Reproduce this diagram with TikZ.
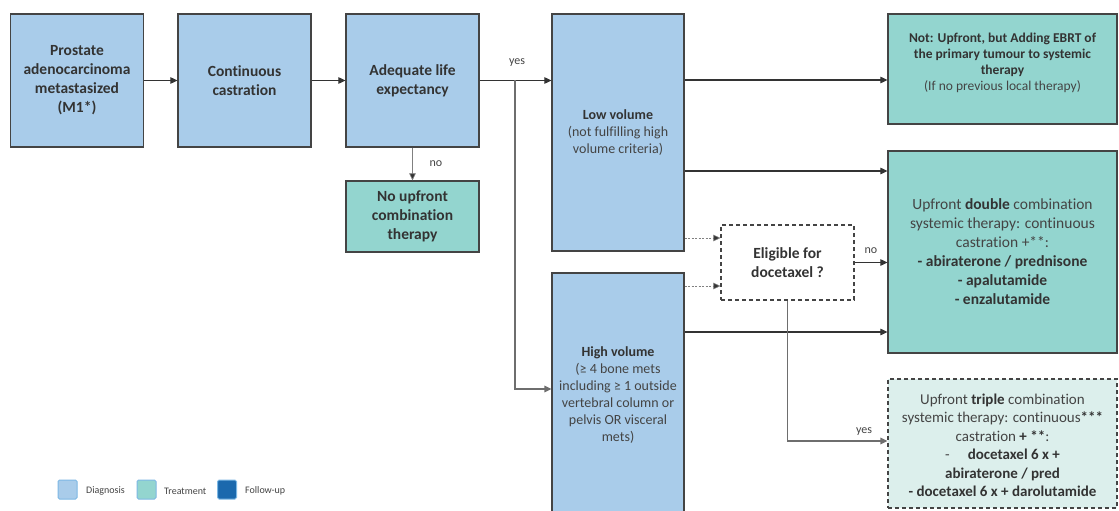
\documentclass[tikz,border=0pt]{standalone}
\usepackage{fontspec}
\setmainfont{Carlito}[Ligatures=NoCommon]
\usetikzlibrary{arrows.meta}
\definecolor{diag}{HTML}{A9CCEA}
\definecolor{treat}{HTML}{93D5CF}
\definecolor{treatlight}{HTML}{DCEFEC}
\definecolor{follow}{HTML}{1B69AD}
\definecolor{legborder}{HTML}{7DB8E4}
\definecolor{boxline}{HTML}{444444}
\definecolor{txt}{HTML}{333333}
\definecolor{txtl}{HTML}{444444}
\definecolor{gline}{HTML}{6E6E6E}
\tikzset{
  base/.style={draw=boxline, line width=1.2pt, inner sep=0pt, align=center, text=txt,
    font=\fontsize{15.5pt}{19pt}\selectfont},
  dbox/.style={base, fill=diag},
  tbox/.style={base, fill=treat},
  qbox/.style={base, fill=white, dash pattern=on 4pt off 3pt},
  tqbox/.style={base, fill=treatlight, dash pattern=on 4pt off 3pt},
  arr/.style={draw=txt, line width=1.1pt, -{Triangle[length=7pt,width=6.5pt]}},
  garr/.style={draw=gline, line width=1.4pt, -{Triangle[length=7pt,width=6.5pt]}},
  thinarr/.style={draw=gray, line width=0.6pt, -{Triangle[length=7pt,width=6.5pt,fill=txt]}},
  dotarr/.style={draw=gray, line width=0.6pt, dash pattern=on 2pt off 1.5pt, -{Triangle[length=7pt,width=6.5pt,fill=txt]}},
  lbl/.style={text=txtl, font=\fontsize{12pt}{14pt}\selectfont, inner sep=1pt},
  legsq/.style={draw=legborder, line width=1pt, rounded corners=1.5pt, minimum width=19pt, minimum height=19pt, inner sep=0pt},
  legtxt/.style={text=txtl, font=\fontsize{10pt}{11pt}\selectfont, anchor=west, inner sep=0pt},
}
\begin{document}
\begin{tikzpicture}[x=1pt,y=-1pt]
\useasboundingbox (0,0) rectangle (1119,511);
\clip (0,0) rectangle (1119,511);
\fill[white] (0,0) rectangle (1119,511);

% diagnosis column
\node[dbox, minimum width=133pt, minimum height=133pt] (pro) at (77,80.5)
  {\bfseries Prostate\\ \bfseries adenocarcinoma\\ \bfseries metastasized\\ \bfseries (M1*)};
\node[dbox, minimum width=133pt, minimum height=133pt] (cc) at (244.5,80.5)
  {\bfseries Continuous\\ \bfseries castration};
\node[dbox, minimum width=133pt, minimum height=133pt] (ade) at (412.5,80.5)
  {\bfseries Adequate life\\ \bfseries expectancy};
\node[tbox, minimum width=133pt, minimum height=71pt] (noup) at (412.5,216.5)
  {\bfseries No upfront\\ \bfseries combination\\ \bfseries therapy};

\node[dbox, minimum width=132pt, minimum height=237pt, font=\fontsize{14pt}{17pt}\selectfont] (low) at (618,132.5)
  {\bfseries Low volume\\ {\color{txtl}(not fulfilling high}\\ {\color{txtl}volume criteria)}};
\node[dbox, minimum width=132pt, minimum height=244pt, font=\fontsize{14pt}{17pt}\selectfont] (high) at (618,395)
  {\bfseries High volume\\ {\color{txtl}(≥ 4 bone mets}\\ {\color{txtl}including ≥ 1 outside}\\ {\color{txtl}vertebral column or}\\ {\color{txtl}pelvis OR visceral}\\ {\color{txtl}mets)}};

\node[qbox, minimum width=133pt, minimum height=75pt] (elig) at (787.5,262.5)
  {\bfseries Eligible for\\ \bfseries docetaxel ?};

% treatments
\node[tbox, minimum width=229pt, minimum height=110pt] (nup) at (1002.5,69) {};
\node[align=center, text=txt, inner sep=0pt, font=\fontsize{13.5pt}{16pt}\selectfont] (nuptxt) at (1002.5,63)
  {\bfseries Not: Upfront, but Adding EBRT of\\ \bfseries the primary tumour to systemic\\ \bfseries therapy\\ {\color{txtl}(If no previous local therapy)}};
\node[tbox, minimum width=229pt, minimum height=202pt] (dbl) at (1002.5,252)
  {{\color{txtl}Upfront} \textbf{double} {\color{txtl}combination}\\ {\color{txtl}systemic therapy: continuous}\\ {\color{txtl}castration +**:}\\ \bfseries - abiraterone / prednisone\\ \bfseries - apalutamide\\ \bfseries - enzalutamide};
\node[tqbox, minimum width=229pt, minimum height=129pt] (tri) at (1002.5,443.5) {};
\node[align=center, text=txt, inner sep=0pt, font=\fontsize{15pt}{18.5pt}\selectfont] (tritxt) at (1002.5,445.5)
  {{\color{txtl}Upfront} \textbf{triple} {\color{txtl}combination}\\ {\color{txtl}systemic therapy: continuous}\textbf{***}\\ {\color{txtl}castration} \textbf{+ **}{\color{txtl}:}\\ {\color{txtl}-}\hspace{18pt}\textbf{docetaxel 6 x +}\\ \bfseries abiraterone / pred\\ \textbf{- docetaxel 6 x + darolutamide}};

% connectors
\draw[arr] (pro.east) -- (cc.west);
\draw[arr] (cc.east) -- (ade.west);
\draw[arr] (ade.east) -- (ade.east -| low.west);
\coordinate (br) at (515,80.5);
\node[lbl] (yeslbl) at (517,63) {yes};
\draw[garr] (br) |- (high.west |- 0,389);
\draw[thinarr] (ade.south) -- (noup.north);
\node[lbl] (nolbl) at (436,164) {no};

\draw[arr] (low.east |- 0,80) -- (nup.west |- 0,80);
\draw[arr] (low.east |- 0,171) -- (dbl.west |- 0,171);
\draw[dotarr] (low.east |- 0,238) -- (elig.west |- 0,238);
\draw[dotarr] (high.east |- 0,286) -- (elig.west |- 0,286);
\draw[arr] (high.east |- 0,332) -- (dbl.west |- 0,332);
\draw[arr] (elig.east) -- (elig.east -| dbl.west);
\node[lbl] (no2lbl) at (871,251) {no};
\draw[garr] (elig.south) |- (tri.west |- 0,441);
\node[lbl, anchor=south] (yes2lbl) at (864,437) {yes};

% legend
\node[legsq, fill=diag] (lg1) at (67.5,489.5) {};
\node[legtxt] (lt1) at (86,491) {Diagnosis};
\node[legsq, fill=treat] (lg2) at (146.5,489.5) {};
\node[legtxt] (lt2) at (164,491) {Treatment};
\node[legsq, fill=follow] (lg3) at (227,489.5) {};
\node[legtxt] (lt3) at (245,491) {Follow-up};
\end{tikzpicture}
\end{document}
